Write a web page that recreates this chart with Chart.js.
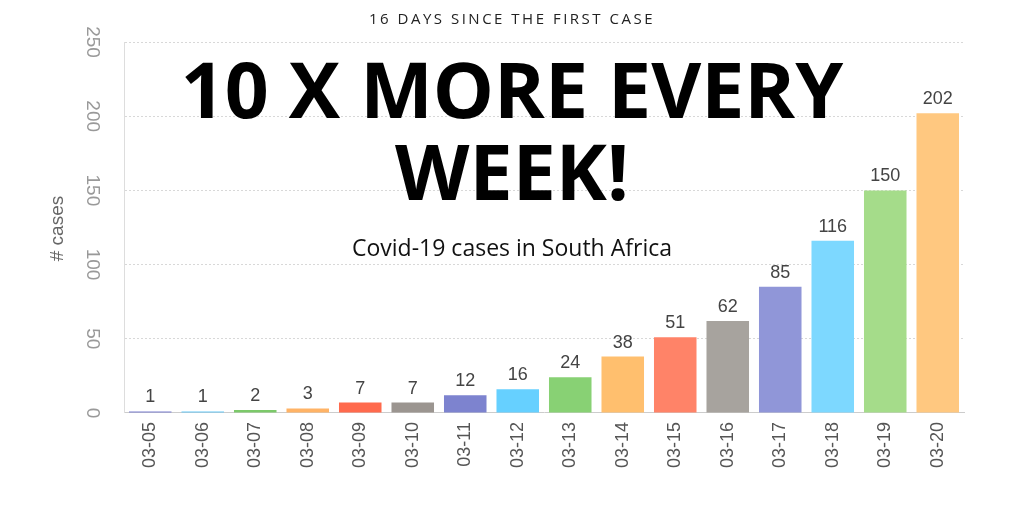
<!DOCTYPE html>
<html>
<head>
<meta charset="utf-8">
<script src="https://cdn.jsdelivr.net/npm/chart.js@4"></script>
<style>
  html, body { margin: 0; padding: 0; background: #fff; }
  #wrap { position: relative; width: 1024px; height: 512px; }
  .txt { position: absolute; left: 0; width: 1024px; text-align: center; pointer-events: none; }
  #sub { top: 8px; font: 15px "Open Sans", sans-serif; letter-spacing: 2.5px; color: #222; }
  #big { top: 48px; font: 700 77px/82px "Open Sans", sans-serif; color: #000; }
  #cap { top: 231px; font: 400 23px "Open Sans", sans-serif; color: #111; }
</style>
</head>
<body>
<div id="wrap">
  <canvas id="bar-chart" width="1024" height="512"></canvas>
  <div class="txt" id="sub">16 DAYS SINCE THE FIRST CASE</div>
  <div class="txt" id="big">10 X MORE EVERY<br>WEEK!</div>
  <div class="txt" id="cap">Covid-19 cases in South Africa</div>
</div>
<script>
// Data
var days = ["03-05", "03-06", "03-07", "03-08", "03-09", "03-10", "03-11", "03-12",
            "03-13", "03-14", "03-15", "03-16", "03-17", "03-18", "03-19", "03-20"];
var cases = [1, 1, 2, 3, 7, 7, 12, 16, 24, 38, 51, 62, 85, 116, 150, 202];
var yTicks = [0, 50, 100, 150, 200, 250];
var barColors = ["#7b7fd0", "#66c8f5", "#7cc96a", "#ffb366", "#ff6a4d", "#9b9590",
                 "#7d83cf", "#66d0ff", "#88d174", "#ffbf6e", "#ff8368", "#a7a39e",
                 "#9096d8", "#7dd8ff", "#a5dc8a", "#ffc880"];

var FONT = '"Liberation Sans", Arial, sans-serif';

// value labels above bars, rotated y tick labels and y title
var extras = {
    id: 'extras',
    afterDatasetsDraw: function (chart) {
        var ctx = chart.ctx;
        var meta = chart.getDatasetMeta(0);
        var y = chart.scales.y;
        ctx.save();
        ctx.font = '18px ' + FONT;
        ctx.fillStyle = '#444';
        ctx.textAlign = 'center';
        ctx.textBaseline = 'bottom';
        meta.data.forEach(function (bar, i) {
            ctx.fillText(cases[i], bar.x, bar.y - 5);
        });

        // y tick labels, reading top to bottom
        ctx.font = '19px ' + FONT;
        ctx.fillStyle = '#999';
        ctx.textBaseline = 'middle';
        yTicks.forEach(function (v) {
            ctx.save();
            ctx.translate(92, y.getPixelForValue(v));
            ctx.rotate(Math.PI / 2);
            ctx.fillText(v, 0, 0);
            ctx.restore();
        });

        // y title
        ctx.font = '19px ' + FONT;
        ctx.fillStyle = '#666';
        ctx.save();
        ctx.translate(58, (y.top + y.bottom) / 2 + 1);
        ctx.rotate(-Math.PI / 2);
        ctx.fillText('# cases', 0, 0);
        ctx.restore();
        ctx.restore();
    }
};

new Chart(document.getElementById("bar-chart"), {
    type: 'bar',
    data: {
        labels: days,
        datasets: [{
            label: "# cases",
            backgroundColor: barColors,
            data: cases,
            categoryPercentage: 1,
            barPercentage: 0.81
        }]
    },
    options: {
        responsive: false,
        animation: false,
        layout: { padding: { left: 0, right: 60, top: 42, bottom: 35 } },
        plugins: {
            legend: { display: false },
            tooltip: { enabled: false }
        },
        scales: {
            x: {
                grid: { display: false, drawTicks: false },
                border: { color: '#ccc' },
                ticks: {
                    minRotation: 90, maxRotation: 90, padding: 9,
                    color: '#555',
                    font: { family: FONT, size: 18 }
                }
            },
            y: {
                min: 0, max: 250,
                afterFit: function (scale) { scale.width = 124; },
                grid: { color: '#d8d8d8', drawTicks: false, lineWidth: 1 },
                border: { color: '#ddd', dash: [2, 2] },
                ticks: { stepSize: 50, display: false }
            }
        }
    },
    plugins: [extras]
});
</script>
</body>
</html>
